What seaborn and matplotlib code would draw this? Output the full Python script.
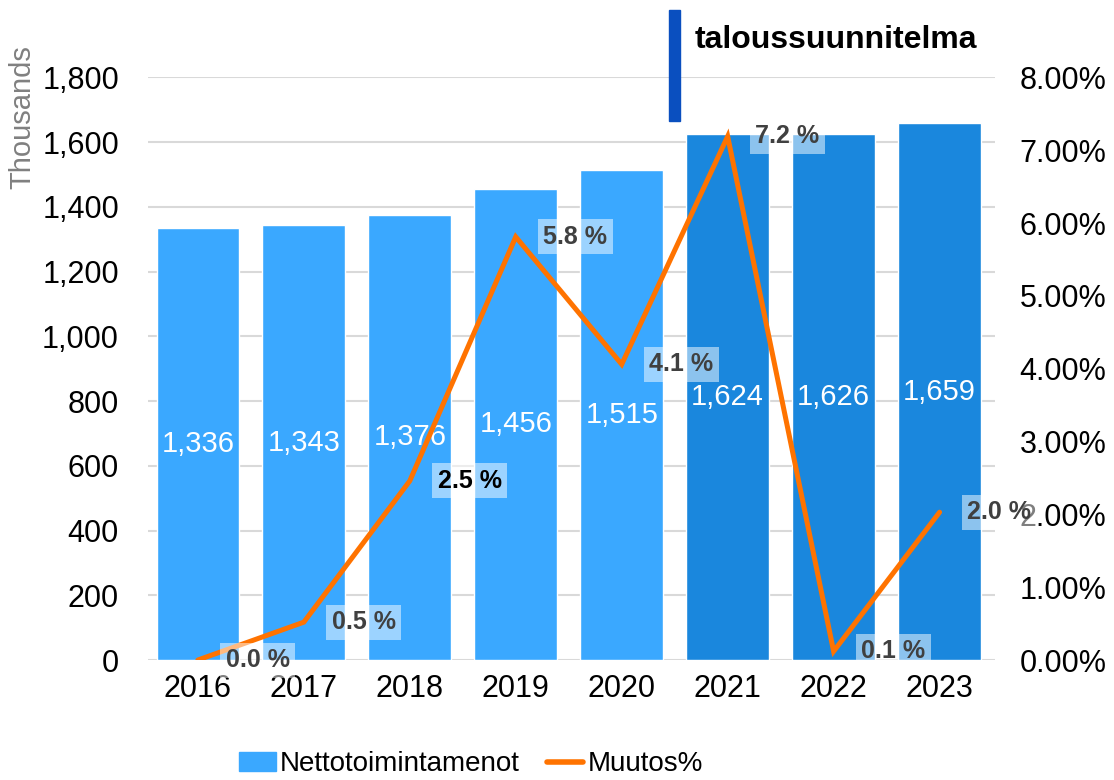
import matplotlib
matplotlib.use('Agg')
import matplotlib.pyplot as plt
import numpy as np
import seaborn as sns
from matplotlib.patches import Patch, Rectangle
from matplotlib.lines import Line2D
from matplotlib.ticker import FuncFormatter

# Data
years = ['2016', '2017', '2018', '2019', '2020', '2021', '2022', '2023']
menot = [1336, 1343, 1376, 1456, 1515, 1624, 1626, 1659]
muutos = [0.0, 0.52, 2.46, 5.81, 4.06, 7.19, 0.12, 2.03]

light_blue = '#3AA8FF'
dark_blue = '#1A87DD'
orange = '#FF7300'
bar_colors = [light_blue] * 5 + [dark_blue] * 3

sns.set_style('white')
plt.rcParams['font.family'] = ['Liberation Sans', 'DejaVu Sans']

fig = plt.figure(figsize=(11.14, 7.8), dpi=100)
ax = fig.add_axes([0.1329, 0.1538, 0.760, 0.747])

# bars
sns.barplot(x=years, y=menot, hue=years, palette=bar_colors, legend=False,
            width=0.78, saturation=1, ax=ax, zorder=2)
ax.set_xlim(-0.47, 7.52)
ax.set_ylim(0, 1800)
ax.set_yticks(range(0, 1801, 200))
ax.yaxis.set_major_formatter(FuncFormatter(lambda v, p: f'{v:,.0f}'))
ax.grid(axis='y', color='#d9d9d9', lw=1.5, zorder=0)
ax.set_axisbelow(True)
for s in ax.spines.values():
    s.set_visible(False)
ax.tick_params(axis='y', length=0, pad=21, labelsize=22, labelcolor='black')
ax.tick_params(axis='x', length=0, pad=10, labelsize=22, labelcolor='black')
ax.set_xlabel('')
ax.set_ylabel('')

for i, v in enumerate(menot):
    ax.text(i, v / 2, f'{v:,}', ha='center', va='center', color='white', fontsize=21)

# line on right axis
ax2 = ax.twinx()
sns.lineplot(x=np.arange(len(years)), y=muutos, ax=ax2, color=orange, lw=3.6,
             solid_capstyle='round', solid_joinstyle='miter')
ax2.set_ylim(0, 8)
ax2.set_yticks(range(0, 9))
ax2.yaxis.set_major_formatter(FuncFormatter(lambda v, p: f'{v:.2f}%'))
ax2.tick_params(axis='y', length=0, pad=18, labelsize=22, labelcolor='black')
ax2.grid(False)
for s in ax2.spines.values():
    s.set_visible(False)
ax2.set_ylabel('')

label_colors = ['#404040'] * 8
label_colors[2] = 'black'
for i, p in enumerate(muutos):
    ax2.annotate(f'{p:.1f} %', (i, p), xytext=(43, 0), textcoords='offset points',
                 ha='center', va='center', fontsize=18, fontweight='bold',
                 color=label_colors[i], zorder=5,
                 bbox=dict(boxstyle='square,pad=0.22', fc='white', ec='none', alpha=0.5))

# left axis unit
fig.text(22 / 1114, 1 - 117 / 780, 'Thousands', rotation=90, ha='center', va='center',
         color='#808080', fontsize=21)

# header marker
fig.patches.append(Rectangle((669 / 1114, 1 - 121 / 780), 11 / 1114, 111 / 780,
                             transform=fig.transFigure, color='#0A4FBF', zorder=3))
fig.text(695 / 1114, 1 - 40 / 780, 'taloussuunnitelma', ha='left', va='center',
         fontsize=23, fontweight='bold', color='black')

# legend
handles = [Patch(color=light_blue), Line2D([0], [0], color=orange, lw=4)]
fig.legend(handles, ['Nettotoimintamenot', 'Muutos%'], loc='center',
           bbox_to_anchor=(0.423, 0.02), ncol=2, frameon=False, fontsize=20,
           labelcolor='black', handlelength=1.3, handletextpad=0.15,
           columnspacing=1.0, borderpad=0)

fig.savefig('out.png', dpi=100)
